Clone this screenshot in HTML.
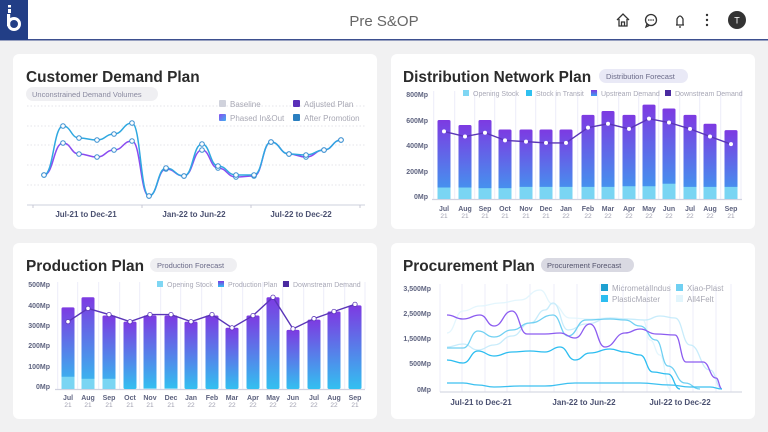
<!DOCTYPE html>
<html><head><meta charset="utf-8"><style>
body{margin:0;width:768px;height:432px;overflow:hidden;background:#f1f1f2;font-family:"Liberation Sans",sans-serif}
svg{display:block}
.t{font-weight:bold;font-size:15.4px;fill:#2b2b2b}
.p{font-size:7.5px;fill:#8a8aa0}
.yl{font-size:7px;font-weight:bold;fill:#5f6480;text-anchor:end}
.m{font-size:7px;font-weight:bold;fill:#5f6480;text-anchor:middle}
.yr{font-size:6.5px;fill:#a0a0b0;text-anchor:middle}
.lg{font-size:7px;fill:#a8a8b6}
.lg2{font-size:8px;fill:#a8a8b4}
.xl{font-size:8px;font-weight:bold;fill:#4a5070;text-anchor:middle}
</style></head><body>
<svg id="s" width="768" height="432" xmlns="http://www.w3.org/2000/svg">
<defs>
<linearGradient id="gd" x1="0" y1="0" x2="0" y2="1"><stop offset="0" stop-color="#7d3ae2"/><stop offset="1" stop-color="#3d9ff0"/></linearGradient>
<linearGradient id="gp" x1="0" y1="0" x2="0" y2="1"><stop offset="0" stop-color="#7d3ae2"/><stop offset="1" stop-color="#33c0f0"/></linearGradient>
<linearGradient id="gl" x1="0" y1="0" x2="1" y2="1"><stop offset="0" stop-color="#8a4ef0"/><stop offset="1" stop-color="#3fb0f0"/></linearGradient>
</defs>
<rect x="0" y="0" width="768" height="40" fill="#fff"/>
<rect x="0" y="39" width="768" height="1.5" fill="#3d4f8f"/>
<rect x="0" y="0" width="28" height="40" fill="#223e86"/>
<rect x="8" y="5" width="3" height="2.5" fill="#fff"/>
<rect x="8" y="9" width="3" height="4" fill="#fff"/>
<circle cx="14" cy="24" r="5.5" fill="none" stroke="#fff" stroke-width="3"/>
<rect x="7" y="14" width="3.2" height="12" fill="#fff"/>
<text x="384" y="26" font-size="15" fill="#666" text-anchor="middle">Pre S&amp;OP</text>
<g stroke="#333" fill="none" stroke-width="1.3">
<path d="M617 20 L623 14 L629 20 M619 19 V26 H627 V19 M621.5 26 V22 H624.5 V26"/>
<circle cx="651" cy="20" r="5.5"/><path d="M647 24 L646 27 L649 25.5"/>
<path d="M676 25 H684 M677 25 V19 Q680 13 683 19 V25 M679 27 H681"/>
</g>
<circle cx="648.8" cy="20" r=".8" fill="#333"/><circle cx="651" cy="20" r=".8" fill="#333"/><circle cx="653.2" cy="20" r=".8" fill="#333"/>
<circle cx="707" cy="15" r="1.2" fill="#333"/><circle cx="707" cy="20" r="1.2" fill="#333"/><circle cx="707" cy="25" r="1.2" fill="#333"/>
<circle cx="737" cy="20" r="9" fill="#333"/><text x="737" y="23.5" font-size="9" fill="#fff" text-anchor="middle">T</text>

<rect x="13" y="54" width="364" height="175" rx="6" fill="#fff"/>
<rect x="391" y="54" width="364" height="175" rx="6" fill="#fff"/>
<rect x="13" y="243" width="364" height="176" rx="6" fill="#fff"/>
<rect x="391" y="243" width="364" height="176" rx="6" fill="#fff"/>

<text x="26" y="82" class="t">Customer Demand Plan</text>
<rect x="26" y="87" width="132" height="14" rx="7" fill="#efeff2"/>
<text x="32" y="97" class="p">Unconstrained Demand Volumes</text>
<g stroke="#dcdce4" stroke-dasharray="1.5 2" stroke-width=".8">
<line x1="27" x2="365" y1="106" y2="106"/><line x1="27" x2="365" y1="126" y2="126"/><line x1="27" x2="365" y1="145" y2="145"/><line x1="27" x2="365" y1="165" y2="165"/><line x1="27" x2="365" y1="185" y2="185"/></g>
<line x1="27" x2="365" y1="205" y2="205" stroke="#d8dae4" stroke-width="1.2"/>
<g stroke="#c8c8d4"><line x1="33" x2="33" y1="205" y2="208"/><line x1="142" x2="142" y1="205" y2="208"/><line x1="251" x2="251" y1="205" y2="208"/><line x1="360" x2="360" y1="205" y2="208"/></g>
<text x="86" y="217" class="xl">Jul-21 to Dec-21</text>
<text x="194" y="217" class="xl">Jan-22 to Jun-22</text>
<text x="301" y="217" class="xl">Jul-22 to Dec-22</text>
<rect x="219" y="100" width="7" height="7" rx="1" fill="#d0d2dc"/><text x="230" y="107" class="lg2">Baseline</text>
<rect x="293" y="100" width="7" height="7" rx="1" fill="#5a2fb8"/><text x="304" y="107" class="lg2">Adjusted Plan</text>
<rect x="219" y="114" width="7" height="7" rx="1" fill="url(#gl)"/><text x="230" y="121" class="lg2">Phased In&amp;Out</text>
<rect x="293" y="114" width="7" height="7" rx="1" fill="#2a7fc0"/><text x="304" y="121" class="lg2">After Promotion</text>
<g id="cdp"></g>

<text x="403" y="82" class="t">Distribution Network Plan</text>
<rect x="599" y="69" width="89" height="14" rx="7" fill="#e9e9f6"/>
<text x="606" y="79" class="p" style="fill:#6a6a88">Distribution Forecast</text>
<text x="428" y="97" class="yl">800Mp</text><text x="428" y="123" class="yl">600Mp</text><text x="428" y="148" class="yl">400Mp</text><text x="428" y="174" class="yl">200Mp</text><text x="428" y="199" class="yl">0Mp</text>
<g id="dist"></g>
<rect x="463" y="90" width="6" height="6" fill="#7fd6f3"/><text x="473" y="96" class="lg">Opening Stock</text>
<rect x="526" y="90" width="6" height="6" fill="#2fc0f0"/><text x="536" y="96" class="lg">Stock in Transit</text>
<rect x="591" y="90" width="6" height="6" fill="url(#gd)"/><text x="601" y="96" class="lg">Upstream Demand</text>
<rect x="665" y="90" width="6" height="6" fill="#4a2aa0"/><text x="675" y="96" class="lg">Downstream Demand</text>
<g id="dm"></g>

<text x="26" y="271" class="t">Production Plan</text>
<rect x="150" y="258" width="87" height="14" rx="7" fill="#efeff2"/>
<text x="157" y="268" class="p" style="fill:#6a6a88">Production Forecast</text>
<text x="50" y="287" class="yl">500Mp</text><text x="50" y="308" class="yl">400Mp</text><text x="50" y="328" class="yl">300Mp</text><text x="50" y="348" class="yl">200Mp</text><text x="50" y="369" class="yl">100Mp</text><text x="50" y="389" class="yl">0Mp</text>
<g id="prod"></g>
<rect x="157" y="281" width="6" height="6" fill="#7fd6f3"/><text x="167" y="287" class="lg">Opening Stock</text>
<rect x="218" y="281" width="6" height="6" fill="url(#gp)"/><text x="228" y="287" class="lg">Production Plan</text>
<rect x="283" y="281" width="6" height="6" fill="#4a2aa0"/><text x="293" y="287" class="lg">Downstream Demand</text>

<text x="403" y="271" class="t">Procurement Plan</text>
<rect x="541" y="258" width="93" height="14" rx="7" fill="#d9d9e2"/>
<text x="547" y="268" class="p" style="fill:#55556e">Procurement Forecast</text>
<text x="431" y="291" class="yl">3,500Mp</text><text x="431" y="316" class="yl">2,500Mp</text><text x="431" y="341" class="yl">1,500Mp</text><text x="431" y="366" class="yl">500Mp</text><text x="431" y="392" class="yl">0Mp</text>
<g id="proc"></g>
<line x1="440" x2="742" y1="392" y2="392" stroke="#d8dae4" stroke-width="1.2"/>
<text x="481" y="405" class="xl">Jul-21 to Dec-21</text>
<text x="584" y="405" class="xl">Jan-22 to Jun-22</text>
<text x="680" y="405" class="xl">Jul-22 to Dec-22</text>
<rect x="601" y="284" width="7" height="7" fill="#1ea0d0"/><text x="612" y="291" class="lg2">MicrometalIndus</text>
<rect x="676" y="284" width="7" height="7" fill="#70d0f2"/><text x="687" y="291" class="lg2">Xiao-Plast</text>
<rect x="601" y="295" width="7" height="7" fill="#2cbdf0"/><text x="612" y="302" class="lg2">PlasticMaster</text>
<rect x="676" y="295" width="7" height="7" fill="#e2f5fc"/><text x="687" y="302" class="lg2">All4Felt</text>

<g>
<text x="444" y="211" class="m">Jul</text><text x="465" y="211" class="m">Aug</text><text x="485" y="211" class="m">Sep</text><text x="505" y="211" class="m">Oct</text><text x="526" y="211" class="m">Nov</text><text x="546" y="211" class="m">Dec</text><text x="566" y="211" class="m">Jan</text><text x="588" y="211" class="m">Feb</text><text x="608" y="211" class="m">Mar</text><text x="629" y="211" class="m">Apr</text><text x="649" y="211" class="m">May</text><text x="669" y="211" class="m">Jun</text><text x="690" y="211" class="m">Jul</text><text x="710" y="211" class="m">Aug</text><text x="731" y="211" class="m">Sep</text>
<text x="444" y="218" class="yr">21</text><text x="465" y="218" class="yr">21</text><text x="485" y="218" class="yr">21</text><text x="505" y="218" class="yr">21</text><text x="526" y="218" class="yr">21</text><text x="546" y="218" class="yr">21</text><text x="566" y="218" class="yr">22</text><text x="588" y="218" class="yr">22</text><text x="608" y="218" class="yr">22</text><text x="629" y="218" class="yr">22</text><text x="649" y="218" class="yr">22</text><text x="669" y="218" class="yr">22</text><text x="690" y="218" class="yr">22</text><text x="710" y="218" class="yr">22</text><text x="731" y="218" class="yr">21</text>
</g>
<g>
<text x="68" y="400" class="m">Jul</text><text x="88" y="400" class="m">Aug</text><text x="109" y="400" class="m">Sep</text><text x="130" y="400" class="m">Oct</text><text x="150" y="400" class="m">Nov</text><text x="171" y="400" class="m">Dec</text><text x="191" y="400" class="m">Jan</text><text x="212" y="400" class="m">Feb</text><text x="232" y="400" class="m">Mar</text><text x="253" y="400" class="m">Apr</text><text x="273" y="400" class="m">May</text><text x="293" y="400" class="m">Jun</text><text x="314" y="400" class="m">Jul</text><text x="334" y="400" class="m">Aug</text><text x="355" y="400" class="m">Sep</text>
<text x="68" y="407" class="yr">21</text><text x="88" y="407" class="yr">21</text><text x="109" y="407" class="yr">21</text><text x="130" y="407" class="yr">21</text><text x="150" y="407" class="yr">21</text><text x="171" y="407" class="yr">21</text><text x="191" y="407" class="yr">22</text><text x="212" y="407" class="yr">22</text><text x="232" y="407" class="yr">22</text><text x="253" y="407" class="yr">22</text><text x="273" y="407" class="yr">22</text><text x="293" y="407" class="yr">22</text><text x="314" y="407" class="yr">22</text><text x="334" y="407" class="yr">22</text><text x="355" y="407" class="yr">21</text>
</g>
</svg>
<script>
var NS="http://www.w3.org/2000/svg";
function el(p,t,a){var e=document.createElementNS(NS,t);for(var k in a)e.setAttribute(k,a[k]);document.getElementById(p).appendChild(e);return e;}
function smooth(pts){var d="M"+pts[0][0]+" "+pts[0][1];for(var i=1;i<pts.length;i++){var p0=pts[i-1],p1=pts[i],mx=(p0[0]+p1[0])/2;d+=" C"+mx+" "+p0[1]+" "+mx+" "+p1[1]+" "+p1[0]+" "+p1[1];}return d;}
var bl=[[44,175],[63,126],[79,138],[97,140],[114,134],[132,123],[149,196],[166,168],[184,176],[202,144],[218,166],[236,175],[254,175],[271,142],[289,154],[306,155],[324,150],[341,140]];
var pu=[[44,175],[63,143],[79,154],[97,157],[114,150],[132,141],[149,196],[166,169],[184,176],[202,150],[218,168],[236,177],[254,176],[271,142],[289,154],[306,157],[324,150],[341,140]];
el("cdp","path",{d:smooth(pu),fill:"none",stroke:"#8a4cf0","stroke-width":1.5});
el("cdp","path",{d:smooth(bl),fill:"none",stroke:"#2fa8e0","stroke-width":1.5});
pu.concat(bl).forEach(function(p){el("cdp","circle",{cx:p[0],cy:p[1],r:2.3,fill:"#fff",stroke:"#3a8fd0","stroke-width":1});});
var dx=[444,465,485,505,526,546,566,588,608,629,649,669,690,710,731];
var dt=[620,580,620,545,545,545,545,660,690,660,740,710,660,590,540];
var dl=[90,90,85,85,95,95,95,95,95,100,100,120,95,95,95];
var dn=[530,490,520,460,450,440,440,560,590,550,630,600,550,490,430];
function dy(v){return 199-v*0.1275;}
for(var i=0;i<=15;i++){var gx=i<15?dx[i]-10.3:741;el("dist","line",{x1:gx,x2:gx,y1:91,y2:199,stroke:"#ececf8","stroke-width":1});}
el("dist","line",{x1:432,x2:742,y1:199.5,y2:199.5,stroke:"#d0d2e0","stroke-width":1.2});
dx.forEach(function(x,i){el("dist","rect",{x:x-6.5,y:dy(dt[i]),width:13,height:dt[i]*0.1275,rx:1.5,fill:"url(#gd)"});el("dist","rect",{x:x-6.5,y:dy(dl[i]),width:13,height:dl[i]*0.1275,fill:"#7ad5f3"});});
var dp=dx.map(function(x,i){return [x,dy(dn[i])];});
el("dm","polyline",{points:dp.join(" "),fill:"none",stroke:"#5a35b8","stroke-width":1.4});
dp.forEach(function(p){el("dm","circle",{cx:p[0],cy:p[1],r:2,fill:"#fff"});});
var px=[68,88,109,130,150,171,191,212,232,253,273,293,314,334,355];
var pt=[400,450,360,330,360,360,330,360,300,360,450,290,340,380,410];
var plo=[60,50,50,0,5,5,0,0,0,0,0,0,0,0,0];
var pn=[330,395,365,330,365,365,330,365,300,360,450,295,345,380,415];
function py(v){return 389-v*0.204;}
for(var i=0;i<=15;i++){var gx=i<15?px[i]-10.3:365;el("prod","line",{x1:gx,x2:gx,y1:282,y2:389,stroke:"#ececf8","stroke-width":1});}
el("prod","line",{x1:55,x2:365,y1:389.5,y2:389.5,stroke:"#d0d2e0","stroke-width":1.2});
px.forEach(function(x,i){el("prod","rect",{x:x-6.5,y:py(pt[i]),width:13,height:pt[i]*0.204,rx:1.5,fill:"url(#gp)"});if(plo[i])el("prod","rect",{x:x-6.5,y:py(plo[i]),width:13,height:plo[i]*0.204,fill:"#7ad5f3"});});
var pp=px.map(function(x,i){return [x,py(pn[i])];});
el("prod","polyline",{points:pp.join(" "),fill:"none",stroke:"#5a35b8","stroke-width":1.4});
pp.forEach(function(p){el("prod","circle",{cx:p[0],cy:p[1],r:2.2,fill:"#fff",stroke:"#5a35b8","stroke-width":.8});});
[440,462,485,507,530,554,577,600,623,647,670,693,716,731].forEach(function(x){el("proc","line",{x1:x,x2:x,y1:284,y2:392,stroke:"#ececf8","stroke-width":1});});
var L=[
 {c:"#e4f6fd",p:[[447,333],[463,311],[480,306],[500,303],[520,300],[540,290],[553,304],[570,318],[590,319],[610,318],[630,319],[643,320],[650,340],[660,355],[670,389]]},
 {c:"#c8ecfb",p:[[447,347],[463,344],[478,350],[494,345],[512,336],[530,323],[545,310],[553,303],[568,330],[586,324],[610,318],[625,319],[645,320],[660,316],[675,318],[690,345],[710,370],[722,389]]},
 {c:"#70d0f2",p:[[447,348],[463,348],[478,331],[494,337],[512,330],[530,323],[553,315],[568,336],[586,320],[610,319],[625,320],[640,326],[656,340],[668,366],[685,383],[700,389]]},
 {c:"#8c5cf0",p:[[447,315],[463,319],[480,315],[494,326],[512,311],[527,334],[545,334],[560,333],[575,338],[590,324],[605,347],[625,333],[640,329],[656,334],[675,335],[686,362],[703,362],[716,378],[722,389]]},
 {c:"#2cbdf0",p:[[447,360],[463,363],[478,351],[494,356],[512,352],[530,351],[545,352],[560,347],[575,360],[590,353],[610,349],[625,352],[640,355],[653,372],[668,374],[680,389]]},
 {c:"#3cc0f0",p:[[447,383],[463,383],[478,385],[494,387],[520,386],[545,386],[575,383],[610,383],[640,383],[670,385],[690,387],[710,387],[722,389]]}
];
L.forEach(function(l){el("proc","path",{d:smooth(l.p),fill:"none",stroke:l.c,"stroke-width":1.3});});
</script>
</body></html>
